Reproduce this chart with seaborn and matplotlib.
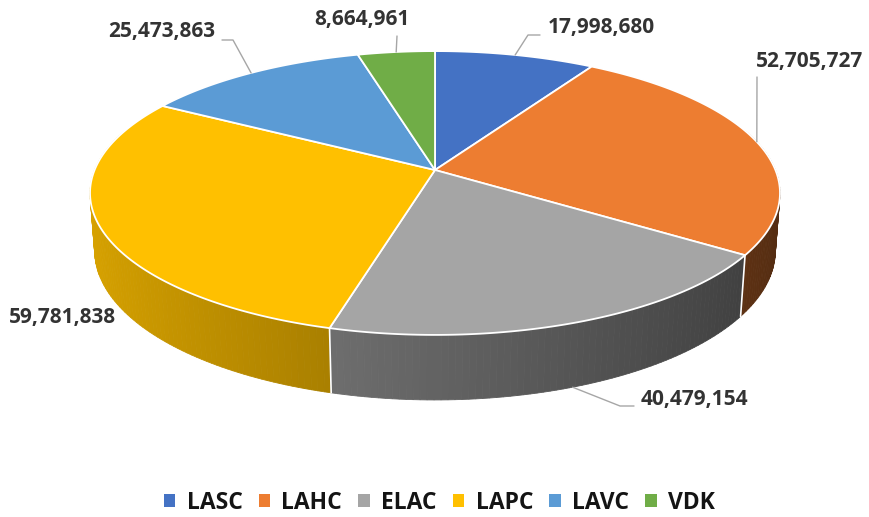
import numpy as np
import matplotlib
matplotlib.use("Agg")
import matplotlib.pyplot as plt
import seaborn as sns
from matplotlib.patches import Polygon, Patch

# ----- Data -----
categories = ["LASC", "LAHC", "ELAC", "LAPC", "LAVC", "VDK"]
values = [17998680, 52705727, 40479154, 59781838, 25473863, 8664961]
colors = ["#4472C4", "#ED7D31", "#A5A5A5", "#FFC000", "#5B9BD5", "#70AD47"]

# label layout (pixel positions of text centre, elbow of leader line)
label_pos = [(601, 28), (810, 62), (694, 400), (63, 317), (162, 32), (362, 19)]
label_elbow = [[(528, 35), (540, 35)], [(757, 77)], [(620, 406), (634, 406)],
               None, [(233, 40), (222, 40)], [(397, 36)]]

# ----- 3D view settings -----
CX, CY = 435, 170          # apex of the pie on screen
F, D = 1920, 5.64          # focal length, camera distance
theta = np.radians(23.95)  # elevation
thick = 0.185              # pie thickness
c, s = np.cos(theta), np.sin(theta)


def project(phi, h=0.0):
    phi = np.radians(phi)
    u, v = np.cos(phi), -np.sin(phi)
    yc = h * c - v * s
    z = D - (h * s + v * c)
    return CX + F * u / z, CY - F * yc / z


def shade(col, factor):
    r, g, b = matplotlib.colors.to_rgb(col)
    return (r * factor, g * factor, b * factor)


sns.set_style("white")
plt.rcParams["font.family"] = ["Open Sans", "DejaVu Sans"]

fig = plt.figure(figsize=(8.7, 5.17), dpi=100)
ax = fig.add_axes([0, 0, 1, 1])
ax.set_xlim(0, 870)
ax.set_ylim(517, 0)
ax.axis("off")

total = sum(values)
angles = [90.0]
for val in values:
    angles.append(angles[-1] - 360.0 * val / total)

# ----- side walls (drawn back to front) -----
pieces = []
for i in range(len(values)):
    a0, a1 = angles[i], angles[i + 1]
    n = max(int(abs(a0 - a1)), 2)
    edges = np.linspace(a0, a1, n + 1)
    for p0, p1 in zip(edges[:-1], edges[1:]):
        mid = np.radians((p0 + p1) / 2)
        v = -np.sin(mid)
        if v < -0.3:
            continue
        u = np.cos(mid)
        pieces.append((v, p0, p1, shade(colors[i], 0.6 - 0.25 * u)))

for v, p0, p1, col in sorted(pieces, key=lambda p: p[0]):
    pts = [project(p0, 0), project(p1, 0), project(p1, -thick), project(p0, -thick)]
    ax.add_patch(Polygon(pts, closed=True, facecolor=col, edgecolor=col, lw=0.6))

# white seams between slices on the wall
for a in angles:
    if -np.sin(np.radians(a)) > 0.2:
        x0, y0 = project(a, 0)
        x1, y1 = project(a, -thick)
        ax.plot([x0, x1], [y0, y1], color="white", lw=1.2)

# ----- top faces -----
for i in range(len(values)):
    arc = np.linspace(angles[i], angles[i + 1], 120)
    pts = [(CX, CY)] + [project(a) for a in arc]
    ax.add_patch(Polygon(pts, closed=True, facecolor=colors[i],
                         edgecolor="white", lw=1.3, joinstyle="round"))

# ----- data labels with leader lines -----
for i, val in enumerate(values):
    mid = (angles[i] + angles[i + 1]) / 2
    tx, ty = label_pos[i]
    ax.text(tx, ty, f"{val:,}", ha="center", va="center", fontsize=15,
            fontweight="bold", color="#333333")
    if label_elbow[i] is None:
        continue
    v = -np.sin(np.radians(mid))
    start = project(mid, -thick if v > 0.2 else 0)
    line = [start] + label_elbow[i]
    ax.plot([p[0] for p in line], [p[1] for p in line], color="#A6A6A6", lw=1)

# ----- legend -----
handles = [Patch(facecolor=col, edgecolor="none") for col in colors]
leg = ax.legend(handles, categories, loc="center", bbox_to_anchor=(0.505, 0.027),
                ncol=6, frameon=False, handlelength=0.5, handleheight=0.5,
                handletextpad=0.5, columnspacing=0.7,
                prop={"size": 16.5, "weight": "bold"})
for t in leg.get_texts():
    t.set_color("#141414")

fig.savefig("out.png", dpi=100)
